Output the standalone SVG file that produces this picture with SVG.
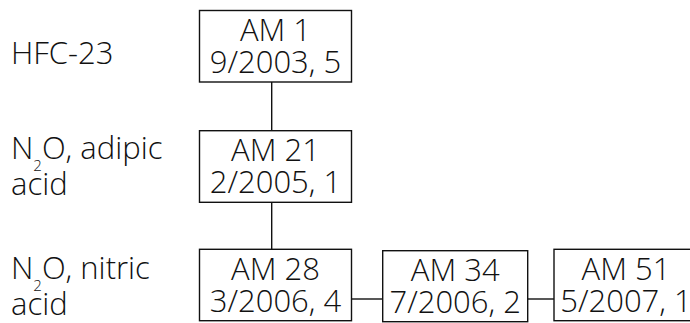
<svg xmlns="http://www.w3.org/2000/svg" width="690" height="323" viewBox="0 0 690 323">
  <style>
    text { font-family: "Open Sans", "Noto Sans", sans-serif; font-weight: 350; font-size: 31px; fill: #111; }
    .box rect { fill: #fff; stroke: #111; stroke-width: 1.4; }
    .box text { text-anchor: middle; }
    .sub { font-size: 15px; }
    #connectors line { stroke: #111; stroke-width: 1.4; }
  </style>
  <rect width="690" height="323" fill="#fff"/>

  <!-- row labels -->
  <g id="label-hfc23">
    <text x="11" y="64">HFC-23</text>
  </g>
  <g id="label-adipic">
    <text x="11" y="159">N<tspan class="sub" dy="12">2</tspan><tspan dy="-12">O, adipic</tspan></text>
    <text x="11" y="195">acid</text>
  </g>
  <g id="label-nitric">
    <text x="11" y="279">N<tspan class="sub" dy="12">2</tspan><tspan dy="-12">O, nitric</tspan></text>
    <text x="11" y="315">acid</text>
  </g>

  <!-- connectors -->
  <g id="connectors">
    <line x1="271.7" y1="82" x2="271.7" y2="130.7"/>
    <line x1="271.7" y1="202.3" x2="271.7" y2="249.3"/>
    <line x1="351.5" y1="299" x2="382.7" y2="299"/>
    <line x1="527.7" y1="299" x2="554" y2="299"/>
  </g>

  <!-- methodology boxes -->
  <g id="am1" class="box">
    <rect x="199.5" y="10.5" width="152" height="71.5"/>
    <text x="275.5" y="40.5">AM 1</text>
    <text x="275.5" y="72.5">9/2003, 5</text>
  </g>
  <g id="am21" class="box">
    <rect x="199.5" y="130.7" width="152" height="71.6"/>
    <text x="275.5" y="160.5">AM 21</text>
    <text x="275.5" y="192.5">2/2005, 1</text>
  </g>
  <g id="am28" class="box">
    <rect x="199.5" y="249.3" width="152" height="71.4"/>
    <text x="275.5" y="279.5">AM 28</text>
    <text x="275.5" y="311.5">3/2006, 4</text>
  </g>
  <g id="am34" class="box">
    <rect x="382.7" y="250.7" width="145" height="71"/>
    <text x="455.2" y="280.5">AM 34</text>
    <text x="455.2" y="312.5">7/2006, 2</text>
  </g>
  <g id="am51" class="box">
    <rect x="554" y="249.3" width="144" height="71.4"/>
    <text x="626" y="279.5">AM 51</text>
    <text x="626" y="311.5">5/2007, 1</text>
  </g>
</svg>
